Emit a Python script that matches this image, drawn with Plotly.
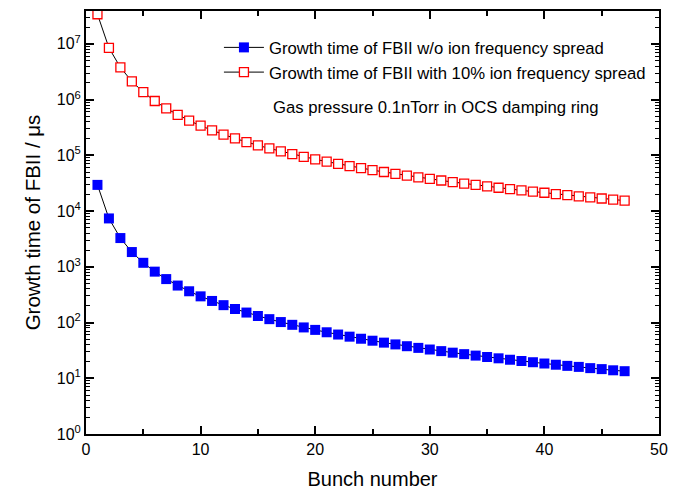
import plotly.graph_objects as go

bunch = list(range(1, 48))
growth_no_spread = [29500, 7380, 3280, 1840, 1180, 819, 602, 461, 364, 295,
                    244, 205, 175, 151, 131, 115, 102, 91.0, 81.7, 73.8,
                    66.9, 60.9, 55.8, 51.2, 47.2, 43.6, 40.5, 37.6, 35.1, 32.8,
                    30.7, 28.8, 27.1, 25.5, 24.1, 22.8, 21.5, 20.4, 19.4, 18.4,
                    17.5, 16.7, 16.0, 15.2, 14.6, 13.9, 13.4]
growth_spread = [3.4e7, 8.5e6, 3.78e6, 2.13e6, 1.36e6, 9.44e5, 6.94e5, 5.31e5, 4.20e5, 3.40e5,
                 2.81e5, 2.36e5, 2.01e5, 1.73e5, 1.51e5, 1.33e5, 1.18e5, 1.05e5, 9.42e4, 8.50e4,
                 7.71e4, 7.02e4, 6.43e4, 5.90e4, 5.44e4, 5.03e4, 4.66e4, 4.34e4, 4.04e4, 3.78e4,
                 3.54e4, 3.32e4, 3.12e4, 2.94e4, 2.78e4, 2.62e4, 2.48e4, 2.35e4, 2.24e4, 2.13e4,
                 2.02e4, 1.93e4, 1.84e4, 1.76e4, 1.68e4, 1.61e4, 1.54e4]
y_tick_vals = [1, 10, 100, 1e3, 1e4, 1e5, 1e6, 1e7]
y_tick_text = ["10<sup>0</sup>", "10<sup>1</sup>", "10<sup>2</sup>", "10<sup>3</sup>",
               "10<sup>4</sup>", "10<sup>5</sup>", "10<sup>6</sup>", "10<sup>7</sup>"]

FONT = "Liberation Sans, Arial, sans-serif"

fig = go.Figure()
fig.add_trace(go.Scatter(
    x=bunch, y=growth_no_spread, mode="lines+markers",
    name="Growth time of FBII w/o ion frequency spread",
    line=dict(color="black", width=1),
    marker=dict(symbol="square", size=10, color="#0000ff", line=dict(width=0)),
))
fig.add_trace(go.Scatter(
    x=bunch, y=growth_spread, mode="lines+markers",
    name="Growth time of FBII with 10% ion frequency spread",
    line=dict(color="black", width=1),
    marker=dict(symbol="square", size=9, color="white", line=dict(width=1.3, color="#ff0000")),
))

fig.add_annotation(
    x=0.323, y=0.771, xref="paper", yref="paper", xanchor="left", yanchor="middle",
    text="Gas pressure 0.1nTorr in OCS damping ring", showarrow=False,
    font=dict(family=FONT, size=16.7, color="black"),
)

axis_common = dict(
    showline=True, linecolor="black", linewidth=2, mirror="ticks",
    ticks="inside", tickcolor="black", tickwidth=1.5, ticklen=8,
    showgrid=False, zeroline=False,
    tickfont=dict(family=FONT, size=16, color="black"),
)

fig.update_xaxes(
    range=[0, 50], dtick=10, tick0=0,
    title=dict(text="Bunch number", font=dict(family=FONT, size=20, color="black"), standoff=15),
    minor=dict(ticks="inside", dtick=5, ticklen=5, tickcolor="black", tickwidth=1.5),
    **axis_common,
)
fig.update_yaxes(
    type="log", range=[0, 7.59], tickmode="array", tickvals=y_tick_vals, ticktext=y_tick_text,
    title=dict(text="Growth time of FBII / μs", font=dict(family=FONT, size=20.5, color="black"), standoff=11),
    minor=dict(ticks="inside", dtick="D1", ticklen=4, tickcolor="black", tickwidth=1),
    **axis_common,
)

fig.update_layout(
    width=677, height=496,
    margin=dict(l=86, r=12, t=9, b=59),
    plot_bgcolor="white", paper_bgcolor="white",
    font=dict(family=FONT, color="black"),
    legend=dict(
        x=0.232, y=0.955, xanchor="left", yanchor="top",
        bgcolor="rgba(0,0,0,0)", borderwidth=0,
        font=dict(family=FONT, size=16.7, color="black"),
        tracegroupgap=0, itemwidth=40,
    ),
    showlegend=True,
)

fig.write_html("out.html")
